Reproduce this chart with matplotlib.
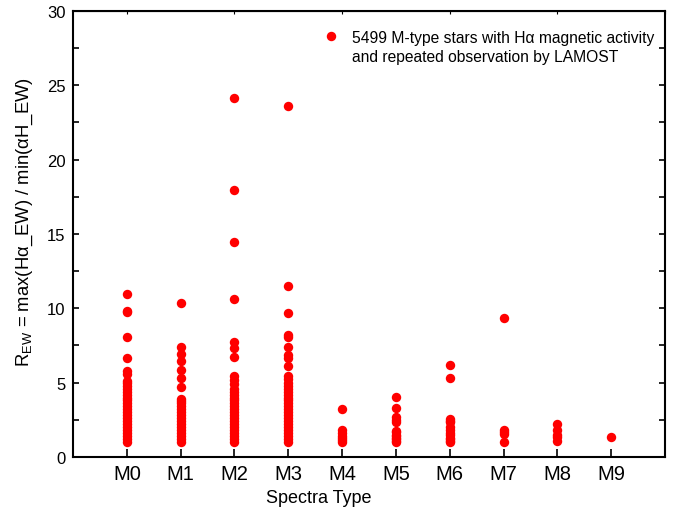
import matplotlib.pyplot as plt
from matplotlib.ticker import MultipleLocator
from matplotlib.lines import Line2D

plt.rcParams["font.family"] = ["Liberation Sans", "DejaVu Sans"]
plt.rcParams["mathtext.default"] = "regular"

# spectral types on the x axis
types = ["M0", "M1", "M2", "M3", "M4", "M5", "M6", "M7", "M8", "M9"]

# R_EW values, one list per type
m0 = [10.96, 9.8, 9.75, 8.09, 6.68, 5.8, 5.58, 5.13, 5.0, 4.8, 4.6, 4.4, 4.2, 4.0,
      3.8, 3.6, 3.4, 3.2, 3.0, 2.8, 2.6, 2.4, 2.2, 2.0, 1.8, 1.6, 1.4, 1.2, 1.0]
m1 = [10.36, 7.37, 6.93, 6.48, 5.87, 5.29, 4.69, 3.9, 3.75, 3.6, 3.4, 3.2, 3.0,
      2.8, 2.6, 2.4, 2.2, 2.0, 1.8, 1.6, 1.4, 1.2, 1.0]
m2 = [24.12, 17.98, 14.44, 10.63, 7.76, 7.31, 6.75, 5.47, 5.2, 4.91, 4.6, 4.35,
      4.2, 4.0, 3.8, 3.6, 3.4, 3.2, 3.0, 2.8, 2.6, 2.4, 2.2, 2.0, 1.8, 1.6, 1.4,
      1.2, 1.0]
m3 = [23.63, 11.48, 9.68, 8.2, 8.05, 7.37, 6.88, 6.66, 6.14, 5.47, 5.25, 5.0, 4.8,
      4.6, 4.4, 4.2, 4.0, 3.8, 3.6, 3.4, 3.2, 3.0, 2.8, 2.6, 2.4, 2.2, 2.0, 1.8,
      1.6, 1.4, 1.2, 1.0]
m4 = [3.23, 1.82, 1.6, 1.43, 1.3, 1.15, 1.0]
m5 = [4.01, 3.3, 2.66, 2.5, 2.32, 1.77, 1.65, 1.5, 1.4, 1.3, 1.2, 1.1, 1.0]
m6 = [6.19, 5.33, 2.55, 2.4, 2.33, 2.0, 1.8, 1.6, 1.45, 1.3, 1.2, 1.1, 1.0]
m7 = [9.35, 1.82, 1.7, 1.55, 1.03]
m8 = [2.22, 1.82, 1.5, 1.32, 1.05]
m9 = [1.37]
groups = [m0, m1, m2, m3, m4, m5, m6, m7, m8, m9]

fig = plt.figure(figsize=(6.85, 5.10), dpi=100)
ax = fig.add_axes([0.1066, 0.102, 0.8642, 0.8745])

for i, vals in enumerate(groups):
    ax.scatter([i] * len(vals), vals, s=46, color="#ff0000", linewidths=0, zorder=3)

ax.set_xlim(-1, 10)
ax.set_ylim(0, 30)
ax.set_xticks(range(len(types)))
ax.set_xticklabels(types)
ax.yaxis.set_major_locator(MultipleLocator(5))
ax.yaxis.set_minor_locator(MultipleLocator(2.5))

for sp in ax.spines.values():
    sp.set_linewidth(1.5)

# inward ticks, left and right; small ones on top
ax.tick_params(axis="y", which="both", direction="in", length=4.5, width=1.2,
               right=True, labelsize=12, pad=5.5)
ax.tick_params(axis="x", which="major", direction="in", length=6, width=1.2,
               labelsize=14.5, pad=5)
ax.secondary_xaxis("top").tick_params(direction="in", length=2, width=0.8,
                                      labeltop=False)

ax.set_xlabel("Spectra Type", fontsize=13)
ax.xaxis.set_label_coords(0.4155, -0.071)
ax.set_ylabel("R$_{EW}$ = max(H\u03b1_EW) / min(\u03b1H_EW)", fontsize=13.3)
ax.yaxis.set_label_coords(-0.065, 0.53)

# legend: marker next to first line, second line without handle
h1 = Line2D([], [], linestyle="none", marker="o", markersize=6.8,
            markerfacecolor="#ff0000", markeredgewidth=0)
h2 = Line2D([], [], linestyle="none")
ax.legend([h1, h2],
          ["5499 M-type stars with H\u03b1 magnetic activity",
           "and repeated observation by LAMOST"],
          loc="upper left", bbox_to_anchor=(0.4223, 0.958), frameon=False,
          fontsize=11.25, handlelength=1.0, handletextpad=0.85,
          borderpad=0, borderaxespad=0, labelspacing=0.25)

fig.savefig("out.png", dpi=100)
